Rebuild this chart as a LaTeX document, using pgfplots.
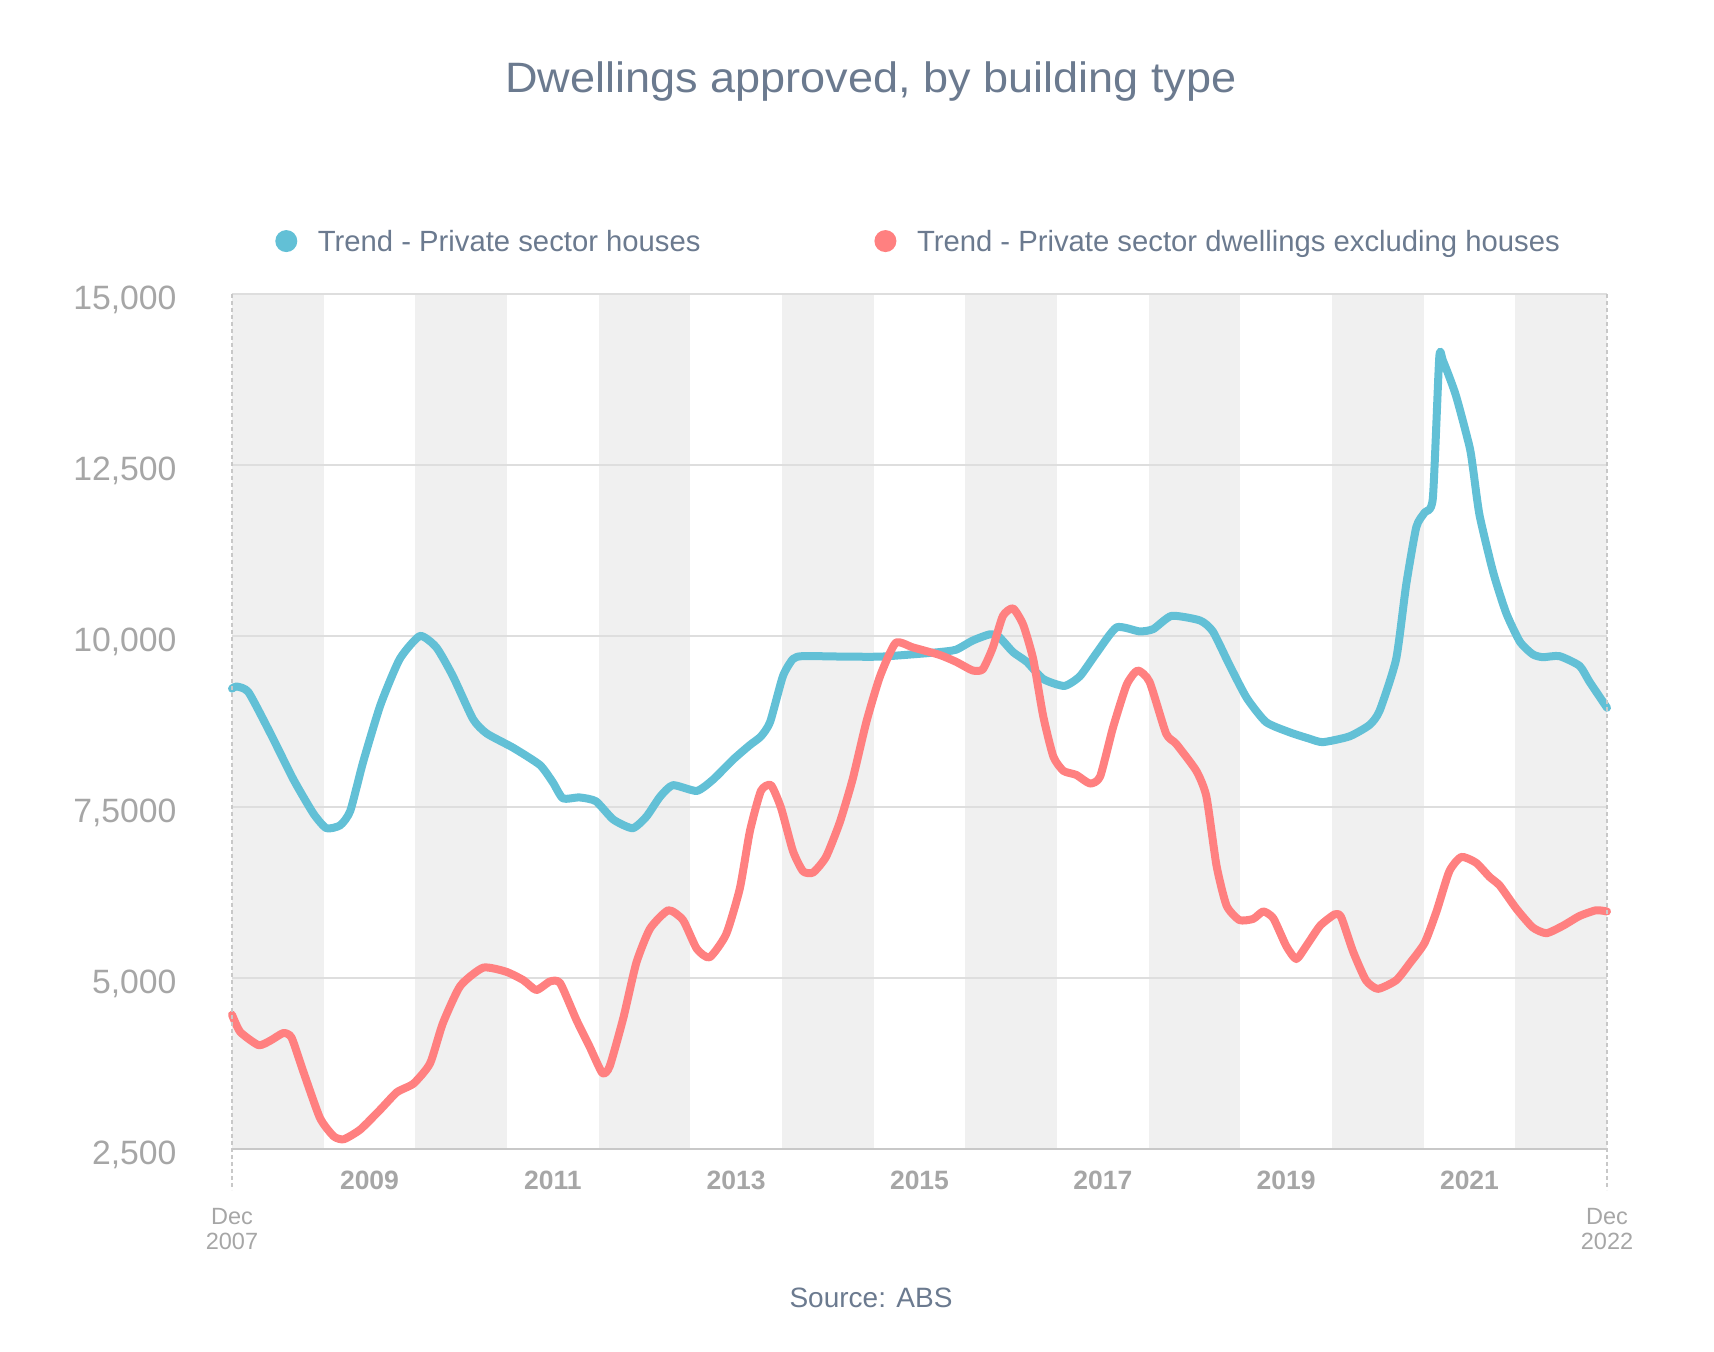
\documentclass[border=0pt]{standalone}
\usepackage{fontspec}
\setmainfont{Liberation Sans}
\usepackage{graphicx}
\usepackage{pgfplots}
\pgfplotsset{compat=1.18}
\definecolor{cblue}{HTML}{62C0D6}
\definecolor{cred}{HTML}{FF8080}
\definecolor{slate}{HTML}{6B7A8F}
\definecolor{tickgray}{HTML}{A6A6A6}
\definecolor{declabel}{HTML}{ABABAB}
\definecolor{bandgray}{HTML}{F0F0F0}
\definecolor{gridgray}{HTML}{DEDEDE}
\definecolor{axisgray}{HTML}{C8C8C8}
\newcommand\yl[1]{{\bfseries\fontsize{10.6}{12}\selectfont #1}}

\pgfplotstableread{
x y
0 9230
0.05 9262
0.18 9178
0.42 8574
0.67 7903
0.89 7400
1.03 7190
1.18 7232
1.29 7442
1.43 8155
1.62 8994
1.83 9664
2.05 10000
2.23 9832
2.41 9413
2.63 8784
2.78 8574
3.07 8364
3.36 8113
3.50 7861
3.61 7626
3.79 7640
3.97 7584
4.16 7316
4.37 7190
4.52 7358
4.67 7651
4.81 7819
5.07 7735
5.25 7903
5.47 8197
5.65 8406
5.77 8532
5.87 8742
6.01 9413
6.12 9664
6.23 9706
6.70 9698
7.07 9698
7.43 9732
7.72 9765
7.90 9800
8.08 9933
8.27 10025
8.37 9983
8.52 9765
8.67 9622
8.85 9371
9.08 9270
9.25 9412
9.43 9748
9.65 10126
9.90 10067
10.05 10101
10.25 10294
10.56 10227
10.70 10067
10.88 9580
11.07 9094
11.28 8742
11.54 8591
11.75 8500
11.90 8448
12.19 8532
12.41 8700
12.52 8909
12.70 9664
12.81 10755
12.92 11594
13.01 11804
13.10 12013
13.17 14069
13.21 14027
13.35 13524
13.50 12769
13.54 12433
13.61 11762
13.76 10923
13.90 10336
14.05 9916
14.19 9732
14.30 9690
14.48 9706
14.70 9564
14.81 9329
15 8951
}\houses

\pgfplotstableread{
x y
0 4463
0.09 4211
0.29 4018
0.42 4086
0.56 4195
0.65 4128
0.78 3624
0.96 2953
1.11 2685
1.22 2643
1.40 2785
1.62 3079
1.80 3331
1.98 3456
2.16 3750
2.30 4337
2.49 4883
2.74 5151
2.99 5092
3.18 4967
3.32 4824
3.47 4950
3.58 4925
3.76 4379
3.90 4000
4.04 3610
4.12 3708
4.27 4421
4.41 5218
4.56 5721
4.76 5990
4.92 5847
5.07 5428
5.21 5302
5.39 5638
5.54 6309
5.65 7148
5.77 7735
5.88 7819
5.99 7484
6.12 6854
6.23 6560
6.34 6543
6.48 6770
6.63 7274
6.77 7903
6.92 8742
7.07 9413
7.24 9899
7.43 9832
7.72 9723
7.90 9622
8.08 9496
8.19 9513
8.30 9832
8.41 10294
8.52 10403
8.63 10168
8.74 9664
8.85 8825
8.96 8238
9.07 8028
9.21 7969
9.36 7843
9.47 7944
9.61 8657
9.76 9287
9.88 9496
10.01 9329
10.19 8574
10.30 8423
10.52 8028
10.63 7651
10.74 6644
10.85 6057
10.99 5847
11.14 5864
11.25 5973
11.36 5873
11.50 5470
11.61 5277
11.72 5470
11.87 5764
12.03 5931
12.10 5890
12.23 5386
12.37 4967
12.50 4841
12.70 4967
12.85 5218
13.01 5512
13.14 5973
13.28 6560
13.41 6770
13.57 6686
13.72 6476
13.83 6351
14.01 6015
14.19 5739
14.34 5655
14.52 5764
14.70 5906
14.88 5990
15 5973
}\units

\pgfplotsset{band/.style={fill=bandgray, draw=none, forget plot, on layer=axis background}}

\begin{document}
\begin{tikzpicture}
\begin{axis}[
  set layers,
  scale only axis, width=550pt, height=342pt,
  at={(0pt,0pt)}, anchor=south west,
  xmin=0, xmax=15, ymin=2500, ymax=15000,
  enlargelimits=false, clip=false,
  scaled y ticks=false, scaled x ticks=false,
  axis line style={draw=none},
  major tick length=0pt, tick style={draw=none},
  ymajorgrids, grid style={gridgray, line width=0.45pt},
  ytick={2500,5000,7500,10000,12500,15000},
  yticklabels={{2,500},{5,000},{7,5000},{10,000},{12,500},{15,000}},
  yticklabel style={anchor=base east, inner sep=0pt, xshift=-22pt, yshift=-6.4pt,
    text=tickgray, font=\fontsize{13.5}{16}\selectfont},
  xtick={1.5,3.5,5.5,7.5,9.5,11.5,13.5},
  xticklabels={\yl{2009},\yl{2011},\yl{2013},\yl{2015},\yl{2017},\yl{2019},\yl{2021}},
  xticklabel style={anchor=base, inner sep=0pt, yshift=-16.4pt, text=tickgray},
  extra x ticks={0,15},
  extra x tick labels={{Dec\\2007},{Dec\\2022}},
  extra x tick style={tick label style={align=center, anchor=base, inner sep=0pt,
    yshift=-24pt, text=declabel, font=\fontsize{9.4}{10}\selectfont}},
  legend columns=2,
  legend style={draw=none, fill=none, inner sep=0pt, outer sep=0pt,
    at={(0.0315,1.0600)}, anchor=west,
    font=\fontsize{11.7}{14}\selectfont, text=slate,
    nodes={inner sep=0pt},
    /tikz/every odd column/.style={column sep=8.25pt},
    /tikz/every even column/.style={column sep=22.6pt}},
  legend image code/.code={\fill[draw=none] (0pt,0.7pt) circle (4.4pt);},
]
\addplot[band] coordinates {(0,2500)(1,2500)(1,15000)(0,15000)};
\addplot[band] coordinates {(2,2500)(3,2500)(3,15000)(2,15000)};
\addplot[band] coordinates {(4,2500)(5,2500)(5,15000)(4,15000)};
\addplot[band] coordinates {(6,2500)(7,2500)(7,15000)(6,15000)};
\addplot[band] coordinates {(8,2500)(9,2500)(9,15000)(8,15000)};
\addplot[band] coordinates {(10,2500)(11,2500)(11,15000)(10,15000)};
\addplot[band] coordinates {(12,2500)(13,2500)(13,15000)(12,15000)};
\addplot[band] coordinates {(14,2500)(15,2500)(15,15000)(14,15000)};
\addplot[color=cblue, line width=3.2pt, line cap=round, line join=round, smooth, tension=0.35]
  table[x=x, y=y] {\houses};
\addlegendentry{\makebox[200pt][l]{Trend - Private sector houses}}
\addplot[color=cred, line width=3.2pt, line cap=round, line join=round, smooth, tension=0.35]
  table[x=x, y=y] {\units};
\addlegendentry{Trend - Private sector dwellings excluding houses}
\end{axis}
\draw[axisgray, line width=1pt] (0pt,0pt) -- (550pt,0pt);
\draw[axisgray, line width=0.5pt, dash pattern=on 1.6pt off 1.2pt] (0pt,342pt) -- (0pt,-16.4pt);
\draw[axisgray, line width=0.5pt, dash pattern=on 1.6pt off 1.2pt] (550pt,342pt) -- (550pt,-16.4pt);
\node[anchor=base, text=slate, inner sep=0pt, font=\fontsize{17}{20}\selectfont]
  at (255.6pt,422.7pt) {\scalebox{1.06}[1]{Dwellings approved, by building type}};
\node[anchor=base, text=slate, inner sep=0pt, font=\fontsize{11.2}{13}\selectfont]
  at (255.6pt,-63.6pt) {Source: ABS};
\pgfresetboundingbox
\path[use as bounding box] (-92.8pt,-81.2pt) rectangle (592.8pt,459.6pt);
\end{tikzpicture}
\end{document}
